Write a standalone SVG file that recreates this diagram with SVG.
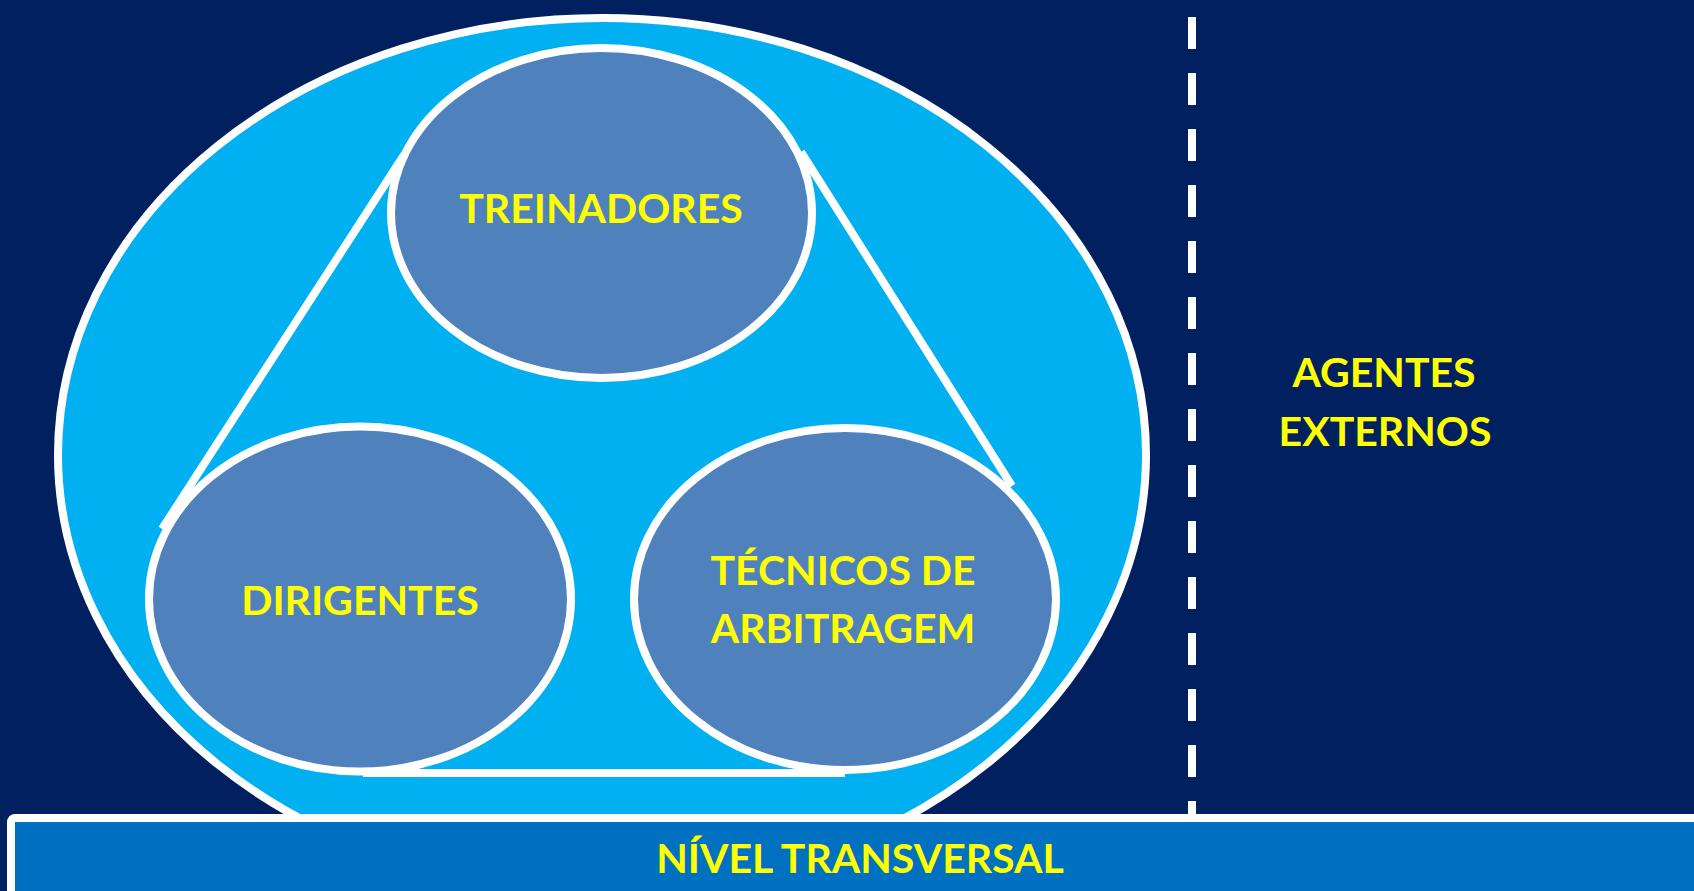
<svg xmlns="http://www.w3.org/2000/svg" width="1694" height="891" viewBox="0 0 1694 891">
<style>
.lbl{font-family:Lato,"Liberation Sans",sans-serif;font-weight:bold;font-size:41px;fill:#FFFF00;text-anchor:middle}
.node{fill:#4F81BD;stroke:#FFFFFF;stroke-width:8}
.conn{stroke:#FFFFFF;stroke-width:8;fill:none}
</style>
<rect x="0" y="0" width="1694" height="891" fill="#002060"/>
<g id="outer">
<ellipse cx="602" cy="455" rx="544" ry="437" fill="#00B0F0" stroke="#FFFFFF" stroke-width="8"/>
</g>
<g id="connectors">
<line class="conn" x1="1192" y1="17" x2="1192" y2="818" stroke-dasharray="32 24"/>
<line class="conn" x1="162" y1="529" x2="404" y2="155"/>
<line class="conn" x1="801" y1="152" x2="1012" y2="486"/>
<line class="conn" x1="363" y1="773" x2="845" y2="773"/>
</g>
<g id="treinadores">
<ellipse class="node" cx="601.5" cy="213" rx="210.5" ry="165"/>
<text class="lbl" x="601" y="223">TREINADORES</text>
</g>
<g id="dirigentes">
<ellipse class="node" cx="360" cy="599" rx="211" ry="172.5"/>
<text class="lbl" x="360" y="615">DIRIGENTES</text>
</g>
<g id="tecnicos">
<ellipse class="node" cx="845" cy="599" rx="211" ry="171"/>
<text class="lbl" x="843" y="585">TÉCNICOS DE</text>
<text class="lbl" x="843" y="643">ARBITRAGEM</text>
</g>
<g id="agentes">
<text class="lbl" x="1384" y="387">AGENTES</text>
<text class="lbl" x="1385" y="446">EXTERNOS</text>
</g>
<g id="nivel">
<rect x="11" y="818" width="1700" height="100" rx="4" fill="#0070C0" stroke="#FFFFFF" stroke-width="8"/>
<text class="lbl" x="860" y="873">NÍVEL TRANSVERSAL</text>
</g>
</svg>
